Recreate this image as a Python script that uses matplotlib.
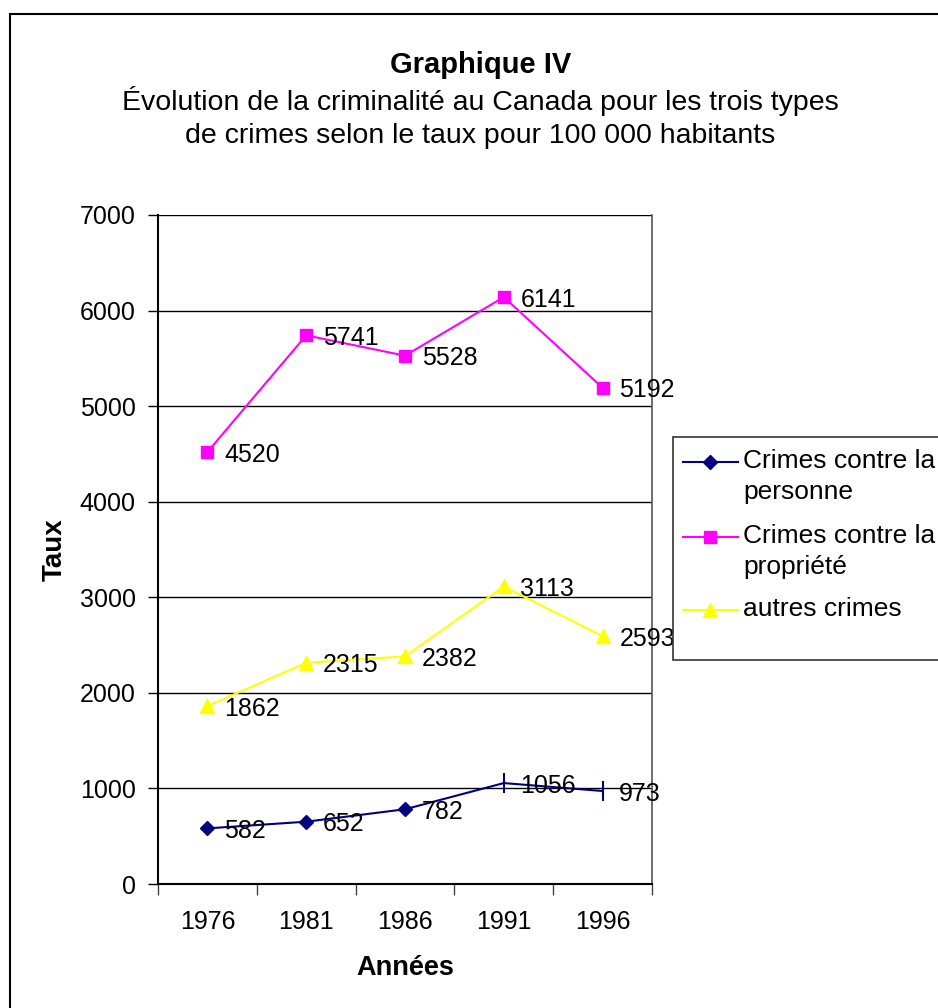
import matplotlib
matplotlib.use("Agg")
import matplotlib.pyplot as plt
from matplotlib.patches import Rectangle
from matplotlib.lines import Line2D

plt.rcParams['font.family'] = ['Liberation Sans', 'DejaVu Sans']

years = ['1976', '1981', '1986', '1991', '1996']
personne = [582, 652, 782, 1056, 973]
propriete = [4520, 5741, 5528, 6141, 5192]
autres = [1862, 2315, 2382, 3113, 2593]

series_names = ['Crimes contre la\npersonne', 'Crimes contre la\npropriété', 'autres crimes']
colors = ['#000080', '#FF00FF', '#FFFF00']

W, H = 938, 1008
fig = plt.figure(figsize=(W / 100, H / 100), dpi=100)

def fx(px):
    return px / W

def fy(py):
    return 1 - py / H

# outer chart frame (runs off the right/bottom edge)
fig.add_artist(Rectangle((fx(10), fy(1030)), fx(960) - fx(10), fy(14) - fy(1030),
                         transform=fig.transFigure, fill=False, edgecolor='black',
                         linewidth=1.5, clip_on=False))

ax = fig.add_axes([fx(158), fy(884), fx(652) - fx(158), fy(215) - fy(884)])
x = list(range(len(years)))

FS = 18       # ticks + data labels
FS_T = 20.5   # title
FS_L = 19     # legend

# crimes contre la personne: diamonds, last two points drawn as ticks
ax.plot(x, personne, color=colors[0], linewidth=1.5, zorder=3)
ax.plot(x[:3], personne[:3], linestyle='none', marker='D', markersize=7,
        color=colors[0], zorder=4)
ax.plot(x[3:], personne[3:], linestyle='none', marker='|', markersize=14,
        markeredgewidth=1.5, color=colors[0], zorder=4)
ax.plot(x, propriete, color=colors[1], linewidth=1.5, marker='s', markersize=9, zorder=3)
ax.plot(x, autres, color=colors[2], linewidth=1.5, marker='^', markersize=10, zorder=3)

for vals in (personne, propriete, autres):
    for xi, v in zip(x, vals):
        ax.annotate(str(v), (xi, v), xytext=(12, 0), textcoords='offset points',
                    ha='left', va='center_baseline', fontsize=FS, color='black',
                    zorder=5, annotation_clip=False)

ax.set_xlim(-0.5, 4.5)
ax.set_ylim(0, 7000)
ax.set_yticks(range(0, 7001, 1000))
ax.tick_params(axis='y', direction='out', length=7, width=1, labelsize=FS, pad=9)
ax.set_xticks([i - 0.5 for i in range(len(years) + 1)])
ax.set_xticklabels([])
ax.set_xticks(x, minor=True)
ax.set_xticklabels(years, minor=True, fontsize=FS)
ax.tick_params(axis='x', which='major', direction='out', length=8, width=1, color='#444444')
ax.tick_params(axis='x', which='minor', length=0, pad=19)
ax.grid(axis='y', color='black', linewidth=1)
ax.set_axisbelow(True)
for side in ('left', 'bottom'):
    ax.spines[side].set_color('black')
    ax.spines[side].set_linewidth(1.5)
ax.spines['top'].set_visible(False)
ax.spines['right'].set_color('#555555')
ax.spines['right'].set_linewidth(1.2)

ax.set_xlabel('Années', fontsize=19.5, fontweight='bold', labelpad=15)
ax.set_ylabel('Taux', fontsize=20, fontweight='bold', labelpad=9)

# title
fig.text(fx(481), fy(65), 'Graphique IV', ha='center', va='center', fontsize=21,
         fontweight='bold')
fig.text(fx(480), fy(101), 'Évolution de la criminalité au Canada pour les trois types',
         ha='center', va='center', fontsize=FS_T)
fig.text(fx(480), fy(136), 'de crimes selon le taux pour 100 000 habitants',
         ha='center', va='center', fontsize=FS_T)

# legend
fig.add_artist(Rectangle((fx(673), fy(660)), fx(960) - fx(673), fy(437) - fy(660),
                         transform=fig.transFigure, fill=True, facecolor='white',
                         edgecolor='#333333', linewidth=1.2, clip_on=False))
leg_y = [462, 537, 610]
markers = ['D', 's', '^']
msizes = [7, 9, 10]
for name, c, m, ms, yy in zip(series_names, colors, markers, msizes, leg_y):
    fig.add_artist(Line2D([fx(683), fx(738)], [fy(yy), fy(yy)], color=c, linewidth=1.5,
                          transform=fig.transFigure))
    fig.add_artist(Line2D([fx(710)], [fy(yy)], color=c, marker=m, markersize=ms,
                          linestyle='none', transform=fig.transFigure))
    fig.text(fx(743), fy(yy - 13), name, ha='left', va='top', fontsize=FS_L,
             linespacing=1.35)

fig.savefig('out.png', dpi=100)
